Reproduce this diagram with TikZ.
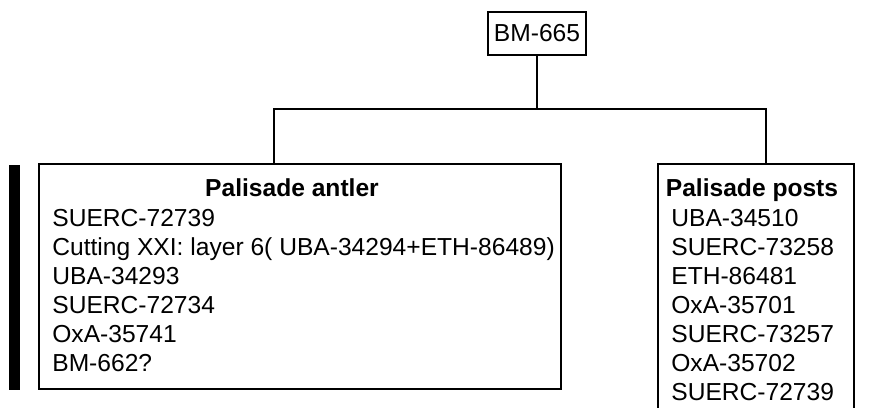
\documentclass[tikz,border=0pt]{standalone}
\usepackage{fontspec}
\setmainfont{Liberation Sans}
\usetikzlibrary{positioning}

\tikzset{
  box/.style={draw, line width=1.1pt, inner sep=0pt},
  item/.style={anchor=base west, inner sep=0pt, font=\fontsize{14}{16}\selectfont},
  boxtitle/.style={anchor=base, inner sep=0pt, font=\fontsize{14}{16}\selectfont\bfseries},
  link/.style={line width=1pt},
}

\begin{document}
\begin{tikzpicture}[x=0.02cm, y=-0.02cm]
  \useasboundingbox (0,0) rectangle (880,407);
  \clip (0,0) rectangle (880,407);

  % Barre noire a gauche
  \fill[black] (9,165) rectangle (20,390);

  % Boite du haut
  \node[box, minimum width=1.96cm, minimum height=0.86cm,
        font=\fontsize{14}{16}\selectfont] (bm) at (537,33.5) {BM-665};

  % Boites du bas
  \node[box, anchor=north west, minimum width=10.44cm, minimum height=4.5cm]
    (antler) at (38,163) {};
  \node[box, anchor=north west, minimum width=3.92cm, minimum height=5.6cm]
    (posts) at (657,163) {};

  % Liaisons
  \coordinate (hl) at (274,109);
  \coordinate (hr) at (766,109);
  \draw[link] (bm.south) -- (bm.south |- hl);
  \draw[link] (antler.north -| hl) -- (hl) -- (hr) -- (hr |- posts.north);

  % Contenu : bois de cerf
  \node[boxtitle] (antlertitle) at (292,196) {Palisade antler};
  \foreach \t [count=\i] in {SUERC-72739,
      Cutting XXI: layer 6( UBA-34294+ETH-86489), UBA-34293,
      SUERC-72734, OxA-35741, BM-662?} {
    \node[item] (antler\i) at (52,{226+(\i-1)*29}) {\t};
  }

  % Contenu : poteaux
  \node[boxtitle] (poststitle) at (752,196) {Palisade posts};
  \foreach \t [count=\i] in {UBA-34510, SUERC-73258, ETH-86481,
      OxA-35701, SUERC-73257, OxA-35702, SUERC-72739} {
    \node[item] (posts\i) at (671,{226+(\i-1)*29}) {\t};
  }

\end{tikzpicture}
\end{document}
